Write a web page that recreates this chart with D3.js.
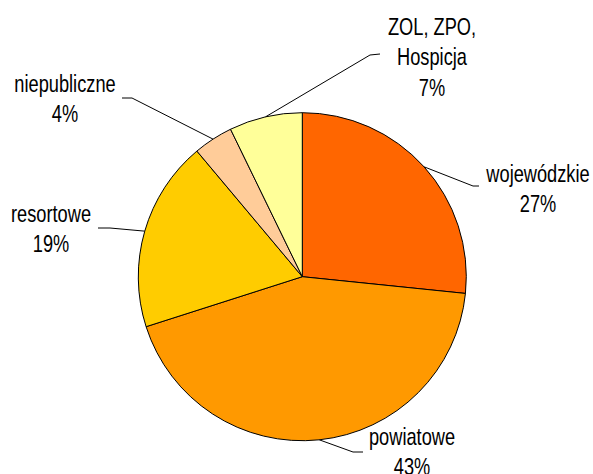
<html>
<head>
<meta charset="utf-8">
<script src='https://d3js.org/d3.v7.min.js'></script>
<style>
    body { margin: 0; background: white; }
    text { font-family: "Liberation Sans", Arial, sans-serif; font-size: 24px; fill: #000; }
</style>
</head>
<body>
<div id="chart"></div>
<script>
    // slice data, clockwise from 12 o'clock
    const categories = ["wojewódzkie", "powiatowe", "resortowe", "niepubliczne", "ZOL, ZPO,|Hospicja"];
    const shares = [26.6, 43.4, 18.8, 3.9, 7.2];
    const colors = ["#FF6600", "#FF9900", "#FFCC00", "#FFCC99", "#FFFF99"];

    // label layout: text centre x, first baseline y, leader elbow and end
    const labelPos = [
        {tx: 538, ty: 182, elbow: [473, 186], end: [479, 186]},
        {tx: 412, ty: 445, elbow: [353, 452], end: [363, 452]},
        {tx: 51, ty: 222, elbow: [110, 228], end: [98, 228]},
        {tx: 65, ty: 92, elbow: [132, 98], end: [122, 98]},
        {tx: 432, ty: 35, elbow: [370, 55], end: [380, 54]}
    ];

    const width = 593, height = 474;
    const cx = 302.3, cy = 276.7, r = 164;

    const svg = d3.select("#chart").append("svg")
        .attr("width", width)
        .attr("height", height);

    const pie = d3.pie().sort(null).value(d => d)(shares);
    const arc = d3.arc().innerRadius(0).outerRadius(r);

    const g = svg.append("g").attr("transform", `translate(${cx},${cy})`);

    g.selectAll("path")
        .data(pie)
        .enter()
        .append("path")
        .attr("d", arc)
        .attr("fill", (d, i) => colors[i])
        .attr("stroke", "#000")
        .attr("stroke-width", 1);

    // leader lines from slice mid-angle on the rim
    pie.forEach((d, i) => {
        const a = (d.startAngle + d.endAngle) / 2;
        const p = labelPos[i];
        const x0 = cx + r * Math.sin(a), y0 = cy - r * Math.cos(a);
        svg.append("polyline")
            .attr("points", `${x0},${y0} ${p.elbow[0]},${p.elbow[1]} ${p.end[0]},${p.end[1]}`)
            .attr("fill", "none")
            .attr("stroke", "#000")
            .attr("stroke-width", 1);

        const lines = categories[i].split("|").concat([Math.round(shares[i]) + "%"]);
        const lg = svg.append("g")
            .attr("transform", `translate(${p.tx},${p.ty}) scale(0.76,1)`);
        lines.forEach((t, k) => {
            lg.append("text")
                .attr("x", 0)
                .attr("y", k * 30.5)
                .attr("text-anchor", "middle")
                .text(t);
        });
    });
</script>
</body>
</html>
